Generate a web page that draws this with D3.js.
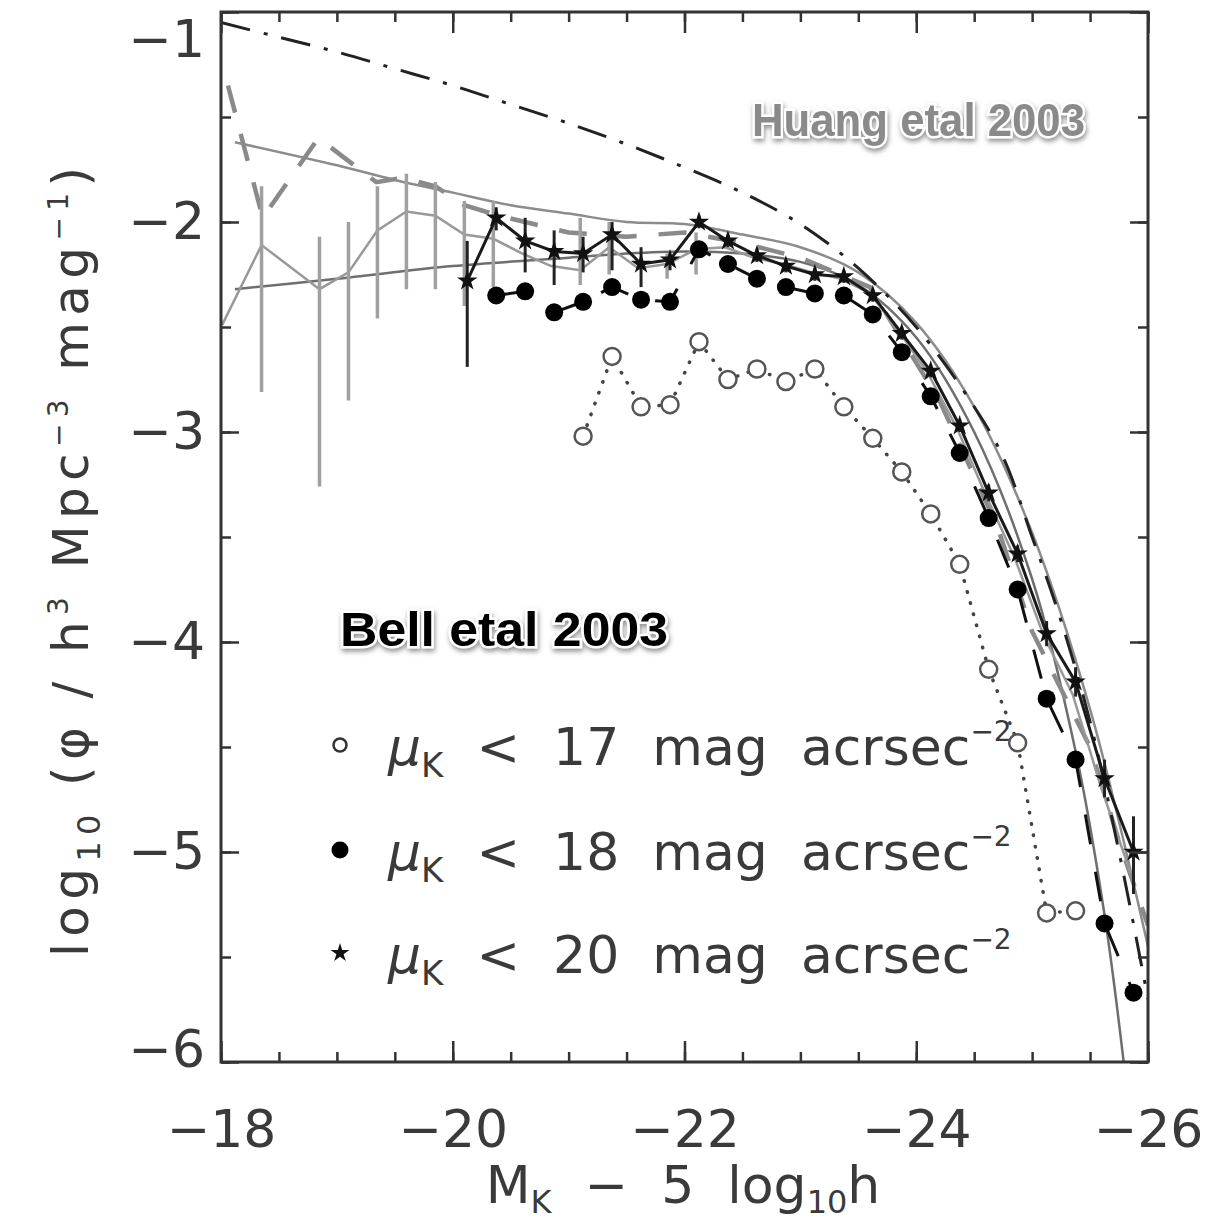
<!DOCTYPE html>
<html>
<head>
<meta charset="utf-8">
<script src="https://cdn.jsdelivr.net/npm/d3@7"></script>
<style>
  body { margin: 0; background: #fff; }
  text { font-family: "DejaVu Sans", sans-serif; fill: #3a3a3a; }
</style>
</head>
<body>
<svg id="chart" width="1232" height="1228"></svg>
<script>
// Huang et al 2003 Schechter fit (dash-dot)
const huangFitM = [-18.0, -18.5, -19.0, -19.5, -20.0, -20.5, -21.0, -21.5, -22.0, -22.5, -23.0, -23.5, -24.0, -24.5, -24.75, -25.0, -25.25, -25.5, -25.75, -26.0]
const huangFitV = [-1.05, -1.12, -1.19, -1.27, -1.35, -1.44, -1.53, -1.63, -1.74, -1.86, -2.01, -2.22, -2.50, -2.88, -3.12, -3.50, -3.90, -4.38, -5.00, -5.70]

// grey dashed curve
const greyDashM = [-18.06, -18.36, -18.84, -19.34, -19.57, -19.85, -20.10, -20.40, -21.0, -21.5, -22.0, -22.5, -23.0, -23.6, -24.2, -24.7, -25.0, -25.5, -25.75, -26.0]
const greyDashV = [-1.35, -1.98, -1.60, -1.81, -1.79, -1.83, -1.92, -1.97, -2.05, -2.07, -2.05, -2.10, -2.17, -2.31, -2.85, -3.45, -3.95, -4.50, -4.95, -5.35]

// grey solid fits
const fitTopM = [-18.12, -19.0, -19.5, -20.0, -20.5, -21.0, -21.5, -22.0, -22.5, -23.0, -23.5, -24.0, -24.5, -25.0, -25.5, -26.0]
const fitTopV = [-1.62, -1.73, -1.80, -1.86, -1.92, -1.96, -2.00, -2.01, -2.06, -2.12, -2.24, -2.48, -2.88, -3.48, -4.32, -5.45]
const fitLowM = [-18.12, -19.0, -20.0, -21.0, -21.5, -22.0, -22.5, -23.0, -23.5, -24.0, -24.5, -25.0, -25.375, -25.625, -25.79]
const fitLowV = [-2.32, -2.27, -2.21, -2.17, -2.15, -2.14, -2.15, -2.19, -2.30, -2.55, -3.00, -3.70, -4.52, -5.30, -6.00]

// grey data line with error bars
const greyM = [-18.01, -18.35, -18.85, -19.10, -19.35, -19.60, -19.85, -20.10, -20.35, -20.60, -20.85, -21.10, -21.35, -21.60, -21.85, -22.10, -22.35, -22.60, -22.85, -23.10, -23.35, -23.60, -23.85, -24.10, -24.35, -24.60, -24.85, -25.10, -25.35, -25.60, -25.85]
const greyV = [-2.49, -2.11, -2.32, -2.24, -2.04, -1.95, -1.97, -2.06, -2.08, -2.15, -2.21, -2.23, -2.12, -2.22, -2.20, -2.13, -2.12, -2.17, -2.20, -2.24, -2.27, -2.34, -2.52, -2.72, -2.98, -3.30, -3.60, -3.97, -4.25, -4.70, -5.10]
const greyErrHi = [null, -1.83, -2.07, -2.00, -1.83, -1.77, -1.81, -1.90, -1.90, null, null, -1.98, -2.00, null, -2.15, -2.05, null, null, null, null, null, null, null, null, null, null, null, null, null, null, null]
const greyErrLo = [null, -2.81, -3.26, -2.85, -2.46, -2.32, -2.32, -2.40, -2.31, null, null, -2.30, -2.25, null, -2.27, -2.25, null, null, null, null, null, null, null, null, null, null, null, null, null, null, null]

// mu_K < 20 (stars)
const starM = [-20.125, -20.375, -20.625, -20.875, -21.125, -21.375, -21.625, -21.875, -22.125, -22.375, -22.625, -22.875, -23.125, -23.375, -23.625, -23.875, -24.125, -24.375, -24.625, -24.875, -25.125, -25.375, -25.625, -25.875]
const starV = [-2.28, -1.98, -2.09, -2.14, -2.15, -2.06, -2.20, -2.18, -2.00, -2.09, -2.16, -2.21, -2.25, -2.26, -2.35, -2.53, -2.71, -2.97, -3.29, -3.58, -3.96, -4.19, -4.65, -5.00]
const starErrHi = [-2.09, -1.93, -1.98, -2.04, -2.07, -2.00, -2.12, -2.16, -1.97, -2.06, -2.13, -2.18, -2.22, -2.23, -2.32, -2.50, -2.68, -2.94, -3.25, -3.54, -3.90, -4.12, -4.56, -4.83]
const starErrLo = [-2.69, -2.04, -2.24, -2.30, -2.24, -2.23, -2.31, -2.23, -2.03, -2.12, -2.19, -2.24, -2.28, -2.29, -2.38, -2.56, -2.74, -3.00, -3.33, -3.62, -4.02, -4.26, -4.74, -5.20]

// mu_K < 18 (filled circles)
const fillM = [-20.375, -20.625, -20.875, -21.125, -21.375, -21.625, -21.875, -22.125, -22.375, -22.625, -22.875, -23.125, -23.375, -23.625, -23.875, -24.125, -24.375, -24.625, -24.875, -25.125, -25.375, -25.625, -25.875]
const fillV = [-2.35, -2.33, -2.43, -2.38, -2.31, -2.37, -2.38, -2.13, -2.20, -2.27, -2.31, -2.34, -2.35, -2.44, -2.62, -2.83, -3.10, -3.41, -3.75, -4.27, -4.56, -5.34, -5.67]

// mu_K < 17 (open circles)
const openM = [-21.125, -21.375, -21.625, -21.875, -22.125, -22.375, -22.625, -22.875, -23.125, -23.375, -23.625, -23.875, -24.125, -24.375, -24.625, -24.875, -25.125, -25.375]
const openV = [-3.02, -2.64, -2.88, -2.87, -2.57, -2.75, -2.70, -2.76, -2.70, -2.88, -3.03, -3.19, -3.39, -3.63, -4.13, -4.48, -5.29, -5.28]

const xMajor = [-18, -20, -22, -24, -26]
const yMajor = [-1, -2, -3, -4, -5, -6]
const legendLabels = ["17", "18", "20"]

const zip = (ms, vs) => ms.map((m, i) => ({ m, v: vs[i] }))

const svg = d3.select("#chart")
const pL = 221, pR = 1148, pT = 12, pB = 1062

const x = d3.scaleLinear().domain([-18, -26]).range([pL, pR])
const y = d3.scaleLinear().domain([-6, -1]).range([pB, pT])

const defs = svg.append("defs")
defs.append("clipPath").attr("id", "plotclip")
  .append("rect").attr("x", pL).attr("y", pT)
  .attr("width", pR - pL).attr("height", pB - pT)
const sh = defs.append("filter").attr("id", "shadow")
  .attr("x", "-10%").attr("y", "-30%").attr("width", "120%").attr("height", "160%")
sh.append("feDropShadow").attr("dx", 1).attr("dy", 3).attr("stdDeviation", 2.5)
  .attr("flood-color", "#777").attr("flood-opacity", 0.8)

const plot = svg.append("g").attr("clip-path", "url(#plotclip)")

const line = d3.line().x(d => x(d.m)).y(d => y(d.v))
const smooth = d3.line().x(d => x(d.m)).y(d => y(d.v)).curve(d3.curveCatmullRom)

// grey solid fits
plot.append("path").datum(zip(fitTopM, fitTopV))
  .attr("d", smooth).attr("fill", "none").attr("stroke", "#8c8c8c").attr("stroke-width", 2.5)
plot.append("path").datum(zip(fitLowM, fitLowV))
  .attr("d", smooth).attr("fill", "none").attr("stroke", "#6e6e6e").attr("stroke-width", 2.5)

// grey dashed
plot.append("path").datum(zip(greyDashM, greyDashV))
  .attr("d", line).attr("fill", "none").attr("stroke", "#8a8a8a")
  .attr("stroke-width", 4.5).attr("stroke-dasharray", "28,22")

// grey data + error bars
const greyData = greyM.map((m, i) => ({ m, v: greyV[i], hi: greyErrHi[i], lo: greyErrLo[i] }))
plot.append("path").datum(greyData)
  .attr("d", line).attr("fill", "none").attr("stroke", "#999").attr("stroke-width", 2.5)
plot.selectAll(".gerr").data(greyData.filter(d => d.hi !== null)).enter()
  .append("line").attr("class", "gerr")
  .attr("x1", d => x(d.m)).attr("x2", d => x(d.m))
  .attr("y1", d => y(d.hi)).attr("y2", d => y(d.lo))
  .attr("stroke", "#a0a0a0").attr("stroke-width", 3.5)

// Huang fit dash-dot
plot.append("path").datum(zip(huangFitM, huangFitV))
  .attr("d", smooth).attr("fill", "none").attr("stroke", "#222")
  .attr("stroke-width", 3).attr("stroke-dasharray", "30,14,4,14")

// open circles, dotted
const openData = zip(openM, openV)
plot.append("path").datum(openData)
  .attr("d", line).attr("fill", "none").attr("stroke", "#444")
  .attr("stroke-width", 3.5).attr("stroke-linecap", "round").attr("stroke-dasharray", "0.5,11")
plot.selectAll(".open").data(openData).enter()
  .append("circle").attr("class", "open")
  .attr("cx", d => x(d.m)).attr("cy", d => y(d.v)).attr("r", 8.5)
  .attr("fill", "#fff").attr("stroke", "#555").attr("stroke-width", 2.5)

// filled circles, dashed
const fillData = zip(fillM, fillV)
plot.append("path").datum(fillData)
  .attr("d", line).attr("fill", "none").attr("stroke", "#111")
  .attr("stroke-width", 3).attr("stroke-dasharray", "30,28")
plot.selectAll(".fill").data(fillData).enter()
  .append("circle").attr("class", "fill")
  .attr("cx", d => x(d.m)).attr("cy", d => y(d.v)).attr("r", 9)
  .attr("fill", "#000")

// stars, solid with error bars
const starData = starM.map((m, i) => ({ m, v: starV[i], hi: starErrHi[i], lo: starErrLo[i] }))
plot.selectAll(".serr").data(starData).enter()
  .append("line").attr("class", "serr")
  .attr("x1", d => x(d.m)).attr("x2", d => x(d.m))
  .attr("y1", d => y(d.hi)).attr("y2", d => y(d.lo))
  .attr("stroke", "#222").attr("stroke-width", 3)
plot.append("path").datum(starData)
  .attr("d", line).attr("fill", "none").attr("stroke", "#1a1a1a").attr("stroke-width", 3)
const star = d3.symbol().type(d3.symbolStar).size(130)
plot.selectAll(".star").data(starData).enter()
  .append("path").attr("class", "star")
  .attr("d", star)
  .attr("transform", d => `translate(${x(d.m)},${y(d.v)})`)
  .attr("fill", "#111")

// axes: ticks inward on all sides
const xMinor = d3.range(-18, -26.01, -0.5)
const yMinor = d3.range(-1, -6.01, -0.5)
const tickStyle = g => {
  g.select(".domain").remove()
  g.selectAll("line").attr("stroke", "#333").attr("stroke-width", 2.5)
}
svg.append("g").attr("transform", `translate(0,${pB})`)
  .call(d3.axisBottom(x).tickValues(xMinor).tickSize(-10).tickFormat(""))
  .call(tickStyle)
svg.append("g").attr("transform", `translate(0,${pT})`)
  .call(d3.axisTop(x).tickValues(xMinor).tickSize(-10).tickFormat(""))
  .call(tickStyle)
svg.append("g").attr("transform", `translate(0,${pT})`)
  .call(d3.axisTop(x).tickValues(xMajor).tickSize(-21).tickFormat(""))
  .call(tickStyle)
svg.append("g").attr("transform", `translate(${pL},0)`)
  .call(d3.axisLeft(y).tickValues(yMinor).tickSize(-10).tickFormat(""))
  .call(tickStyle)
svg.append("g").attr("transform", `translate(${pR},0)`)
  .call(d3.axisRight(y).tickValues(yMinor).tickSize(-10).tickFormat(""))
  .call(tickStyle)
svg.append("g").attr("transform", `translate(${pR},0)`)
  .call(d3.axisRight(y).tickValues(yMajor).tickSize(-18).tickFormat(""))
  .call(tickStyle)

const fmt = d => "\u2212" + Math.abs(d)
svg.append("g").attr("transform", `translate(0,${pB})`)
  .call(d3.axisBottom(x).tickValues(xMajor).tickSize(-21).tickPadding(48).tickFormat(fmt))
  .call(tickStyle)
  .call(g => g.selectAll("text").attr("font-size", 52).attr("fill", "#3a3a3a")
    .style("font-family", "DejaVu Sans"))
svg.append("g").attr("transform", `translate(${pL},0)`)
  .call(d3.axisLeft(y).tickValues(yMajor).tickSize(-18).tickPadding(16).tickFormat(fmt))
  .call(tickStyle)
  .call(g => g.selectAll(".tick text").attr("font-size", 52).attr("fill", "#3a3a3a")
    .style("font-family", "DejaVu Sans")
    .attr("y", d => d === -1 ? 28 : d === -6 ? -12 : 0))

// frame
svg.append("rect").attr("x", pL).attr("y", pT)
  .attr("width", pR - pL).attr("height", pB - pT)
  .attr("fill", "none").attr("stroke", "#333").attr("stroke-width", 3)

// axis titles
const xt = svg.append("text").attr("x", 683).attr("y", 1203)
  .attr("text-anchor", "middle").attr("font-size", 52)
  .attr("xml:space", "preserve")
xt.append("tspan").text("M")
xt.append("tspan").attr("dy", 10).attr("font-size", 32).text("K")
xt.append("tspan").attr("dy", -10).text("  \u2212  5  log")
xt.append("tspan").attr("dy", 10).attr("font-size", 32).text("10")
xt.append("tspan").attr("dy", -10).text("h")

const yt = svg.append("text").attr("transform", "translate(88,562) rotate(-90)")
  .attr("text-anchor", "middle").attr("font-size", 50)
  .attr("textLength", 790).attr("lengthAdjust", "spacing")
yt.append("tspan").text("log")
yt.append("tspan").attr("dy", 12).attr("font-size", 32).text("10")
yt.append("tspan").attr("dy", -12).text(" (\u03c6 / h")
yt.append("tspan").attr("dy", -20).attr("font-size", 28).text("3")
yt.append("tspan").attr("dy", 20).text(" Mpc")
yt.append("tspan").attr("dy", -20).attr("font-size", 28).text("\u22123")
yt.append("tspan").attr("dy", 20).text(" mag")
yt.append("tspan").attr("dy", -20).attr("font-size", 28).text("\u22121")
yt.append("tspan").attr("dy", 20).text(")")

// source labels
svg.append("text").attr("x", 752).attr("y", 136)
  .attr("font-weight", "bold")
  .attr("font-size", 46).attr("textLength", 333).attr("lengthAdjust", "spacingAndGlyphs")
  .style("fill", "#8a8a8a").attr("stroke", "#fff").attr("stroke-width", 5)
  .attr("paint-order", "stroke").attr("filter", "url(#shadow)")
  .style("font-family", "Liberation Sans, Arial, sans-serif")
  .text("Huang etal 2003")
svg.append("text").attr("x", 340).attr("y", 646)
  .attr("font-weight", "bold")
  .attr("font-size", 48).attr("textLength", 328).attr("lengthAdjust", "spacingAndGlyphs")
  .style("fill", "#000").attr("stroke", "#fff").attr("stroke-width", 5)
  .attr("paint-order", "stroke").attr("filter", "url(#shadow)")
  .style("font-family", "Liberation Sans, Arial, sans-serif")
  .text("Bell etal 2003")

// legend
const legY = [745, 850, 953]
const leg = svg.append("g")
legendLabels.forEach((lab, i) => {
  const cy = legY[i]
  if (i === 0) {
    leg.append("circle").attr("cx", 340).attr("cy", cy).attr("r", 6.5)
      .attr("fill", "#fff").attr("stroke", "#333").attr("stroke-width", 2.5)
  } else if (i === 1) {
    leg.append("circle").attr("cx", 340).attr("cy", cy).attr("r", 8.5).attr("fill", "#000")
  } else {
    leg.append("path").attr("d", d3.symbol().type(d3.symbolStar).size(110))
      .attr("transform", `translate(340,${cy})`).attr("fill", "#111")
  }
  const t = leg.append("text").attr("x", 388).attr("y", cy + 20)
    .attr("font-size", 52).attr("xml:space", "preserve")
  t.append("tspan").attr("font-style", "italic").text("\u03bc")
  t.append("tspan").attr("dy", 12).attr("font-size", 34).text("K")
  t.append("tspan").attr("dy", -12).text(`  <  ${lab}  mag  acrsec`)
  t.append("tspan").attr("dy", -24).attr("font-size", 28).text("\u22122")
})
</script>
</body>
</html>
